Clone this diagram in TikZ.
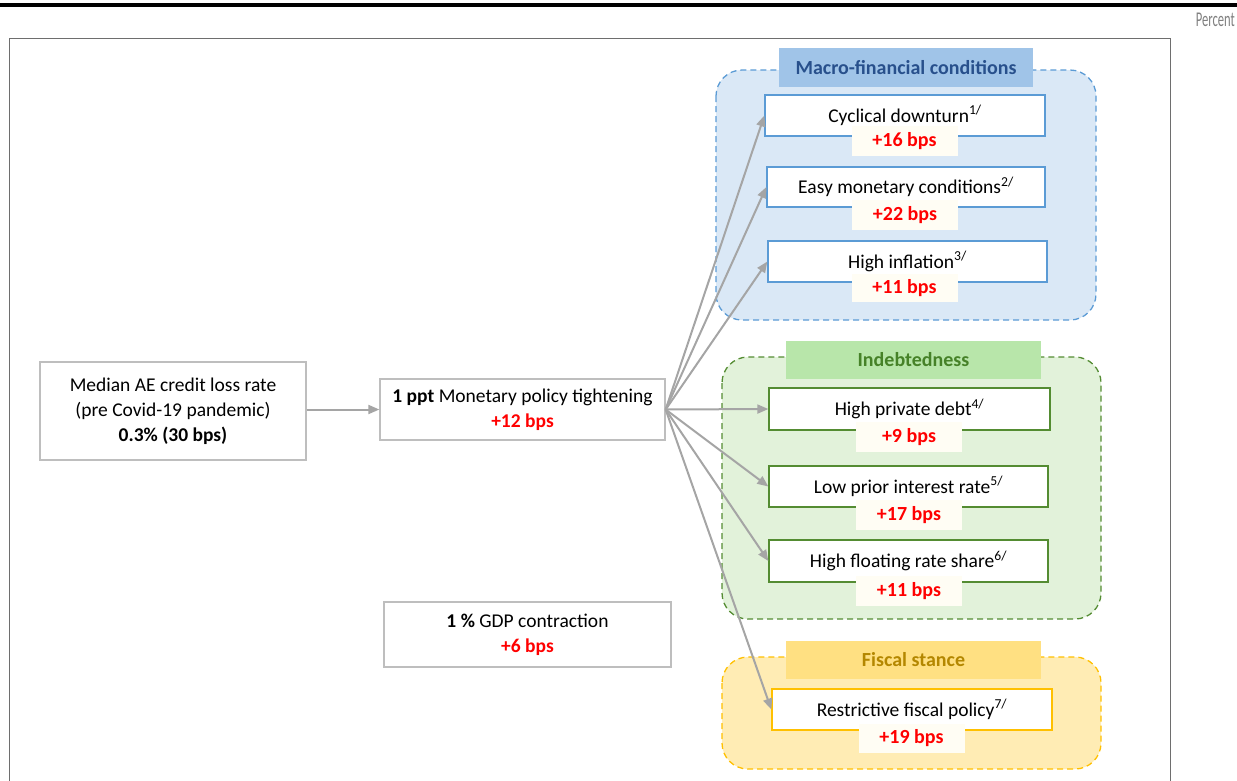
\documentclass[tikz,border=0pt]{standalone}
\usepackage{fontspec}
\setmainfont{Carlito}
\usetikzlibrary{arrows.meta}
\definecolor{pctgray}{RGB}{128,128,128}
\definecolor{framegray}{RGB}{110,110,110}
\definecolor{boxgray}{RGB}{190,190,190}
\definecolor{arrgray}{RGB}{165,165,165}
\definecolor{bpsred}{RGB}{255,0,0}
\definecolor{cream}{RGB}{255,253,244}
\definecolor{bline}{RGB}{91,155,213}
\definecolor{bfill}{RGB}{218,232,246}
\definecolor{btitle}{RGB}{160,196,232}
\definecolor{btext}{RGB}{40,80,140}
\definecolor{gline}{RGB}{84,140,50}
\definecolor{gfill}{RGB}{226,242,218}
\definecolor{gtitle}{RGB}{184,230,170}
\definecolor{gtext}{RGB}{70,130,40}
\definecolor{yline}{RGB}{255,192,0}
\definecolor{yfill}{RGB}{255,236,180}
\definecolor{ytitle}{RGB}{255,224,130}
\definecolor{ytext}{RGB}{180,135,0}
\tikzset{
  grp/.style={dashed, dash pattern=on 6pt off 4pt, line width=1.3pt, rounded corners=26pt},
  ttl/.style={minimum width=255pt, minimum height=38pt, inner sep=0pt, font=\fontsize{20}{22}\selectfont\bfseries},
  factor/.style={draw, fill=white, line width=1.3pt, minimum width=280pt, minimum height=41pt, inner sep=0pt, font=\fontsize{19.5}{22}\selectfont},
  lab/.style={fill=cream, minimum width=106pt, minimum height=30pt, inner sep=0pt, text=bpsred, font=\fontsize{20}{22}\selectfont\bfseries},
  mainbox/.style={draw=boxgray, fill=white, line width=1.3pt, inner sep=0pt, align=center, font=\fontsize{19.5}{25}\selectfont},
  arr/.style={draw=arrgray, line width=2pt, -{Triangle[length=11pt,width=9pt]}}
}
\begin{document}
\begin{tikzpicture}[x=1pt,y=-1pt]
\useasboundingbox (0,0) rectangle (1237,780);
\draw[line width=4pt] (0,5) -- (1237,5);
\node[anchor=east, text=pctgray, font=\fontsize{21}{22}\selectfont, inner sep=0pt] (pct) at (1235,20) {\scalebox{0.6}[1]{Percent}};
\draw[framegray, line width=1pt] (9,38) rectangle (1170,800);

% groups
\draw[grp, draw=bline, fill=bfill] (716,70) rectangle (1096,320);
\draw[grp, draw=gline, fill=gfill] (722,357) rectangle (1101,619);
\draw[grp, draw=yline, fill=yfill] (722,657) rectangle (1101,769);
\node[ttl, fill=btitle, text=btext, minimum height=39pt, minimum width=254pt] (tb) at (906,67.5) {Macro-financial conditions};
\node[ttl, fill=gtitle, text=gtext] (tg) at (913.5,359.5) {Indebtedness};
\node[ttl, fill=ytitle, text=ytext] (ty) at (913.5,659.5) {Fiscal stance};

% main boxes
\node[mainbox, minimum width=266pt, minimum height=98pt] (med) at (173,411) {Median AE credit loss rate\\(pre Covid-19 pandemic)\\\textbf{0.3\% (30 bps)}};
\node[mainbox, minimum width=285pt, minimum height=61pt] (mp) at (522.5,409.5) {\textbf{1 ppt} Monetary policy tightening\\\textcolor{bpsred}{\textbf{+12 bps}}};
\node[mainbox, minimum width=287pt, minimum height=65pt] (gdp) at (527.5,634.5) {\textbf{1 \%} GDP contraction\\\textcolor{bpsred}{\textbf{+6 bps}}};

% factor boxes
\node[factor, draw=bline] (cyc) at (905,115.5) {Cyclical downturn\textsuperscript{1/}};
\node[factor, draw=bline, minimum width=278pt, minimum height=40pt] (easy) at (906,187) {Easy monetary conditions\textsuperscript{2/}};
\node[factor, draw=bline, minimum width=279pt] (infl) at (907.5,261.5) {High inflation\textsuperscript{3/}};
\node[factor, draw=gline, minimum width=281pt, minimum height=42pt] (debt) at (909.5,409) {High private debt\textsuperscript{4/}};
\node[factor, draw=gline, minimum width=279pt] (low) at (908.5,486.5) {Low prior interest rate\textsuperscript{5/}};
\node[factor, draw=gline, minimum width=279pt, minimum height=42pt] (flt) at (908.5,561) {High floating rate share\textsuperscript{6/}};
\node[factor, draw=yline] (fis) at (912,709.5) {Restrictive fiscal policy\textsuperscript{7/}};

% labels
\node[lab] (lcyc) at (904.5,141) {+16 bps};
\node[lab] (leasy) at (905,215) {+22 bps};
\node[lab, minimum height=28pt] (linfl) at (904.5,288) {+11 bps};
\node[lab] (ldebt) at (909,437) {+9 bps};
\node[lab] (llow) at (909,515) {+17 bps};
\node[lab] (lflt) at (909,591) {+11 bps};
\node[lab, minimum height=29pt] (lfis) at (911.5,738.5) {+19 bps};

% arrows
\draw[arr] (med.east |- mp.east) -- (mp.west);
\foreach \t in {cyc,easy,infl,debt,low,flt,fis}
  \draw[arr] (mp.east) -- (\t.west);
\end{tikzpicture}
\end{document}
